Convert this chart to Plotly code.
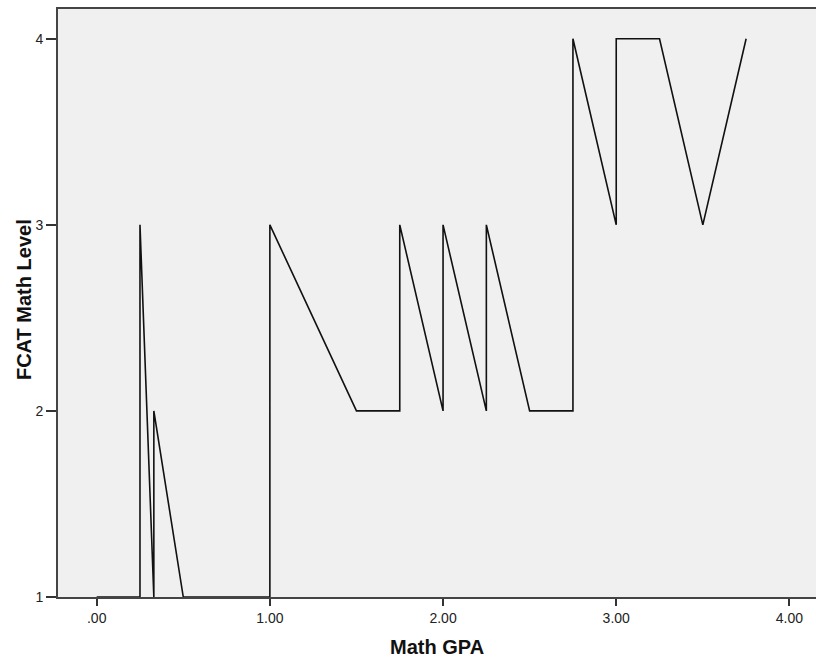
import plotly.graph_objects as go

gpa = [0.0, 0.25, 0.25, 0.33, 0.33, 0.5, 1.0, 1.0, 1.5, 1.75, 1.75, 2.0, 2.0, 2.25, 2.25, 2.5, 2.75, 2.75, 3.0, 3.0, 3.25, 3.5, 3.75]
level = [1, 1, 3, 1, 2, 1, 1, 3, 2, 2, 3, 2, 3, 2, 3, 2, 2, 4, 3, 4, 4, 3, 4]

x_ticks = [0, 1, 2, 3, 4]
x_labels = [".00", "1.00", "2.00", "3.00", "4.00"]
y_ticks = [1, 2, 3, 4]
y_labels = ["1", "2", "3", "4"]

fig = go.Figure(go.Scatter(x=gpa, y=level, mode="lines",
                           line=dict(color="#111111", width=1.6), hoverinfo="skip"))

fig.update_layout(
    width=816, height=659,
    margin=dict(l=58, r=0, t=9, b=62),
    paper_bgcolor="white", plot_bgcolor="#F0F0F0",
    font=dict(family="Liberation Sans, Arial, sans-serif", color="#222222", size=14),
    showlegend=False,
    annotations=[
        dict(text="<b>Math GPA</b>", xref="paper", yref="paper", x=0.5, y=0,
             xanchor="center", yanchor="top", yshift=-37, showarrow=False,
             font=dict(size=20, color="#111111")),
        dict(text="<b>FCAT Math Level</b>", xref="paper", yref="paper", x=0, y=0.505,
             xanchor="center", yanchor="middle", xshift=-34, textangle=-90, showarrow=False,
             font=dict(size=20, color="#111111")),
    ],
)
fig.update_xaxes(
    range=[-0.2234, 4.1535], tickvals=x_ticks, ticktext=x_labels,
    showgrid=False, zeroline=False, showline=True, linecolor="#444444", linewidth=1.8,
    mirror=True, ticks="outside", ticklen=7, tickcolor="#333333", tickwidth=1.5,
    tickfont=dict(size=14, color="#222222"), layer="above traces",
)
fig.update_yaxes(
    range=[1.0, 4.16], tickvals=y_ticks, ticktext=y_labels,
    showgrid=False, zeroline=False, showline=True, linecolor="#444444", linewidth=1.8,
    ticks="outside", ticklen=10, tickcolor="#333333", tickwidth=1.5,
    tickfont=dict(size=14, color="#222222"), layer="above traces",
)

fig.write_html("out.html")
